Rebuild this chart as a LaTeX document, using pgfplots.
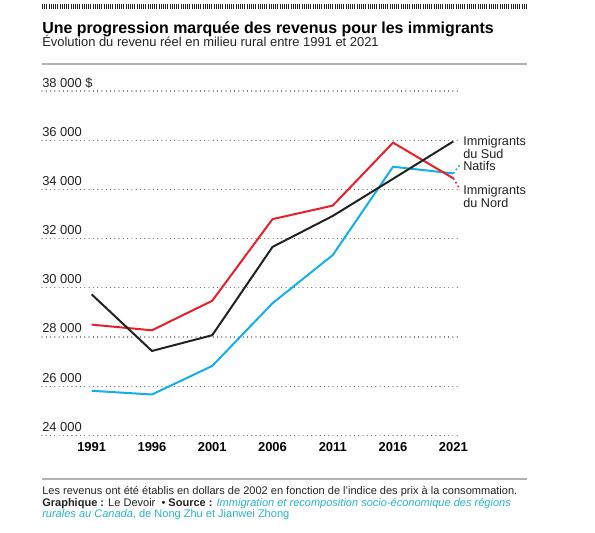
\documentclass[border=0pt]{standalone}
\usepackage{fontspec}
\setmainfont{Liberation Sans}
\usepackage{pgfplots}
\pgfplotsset{compat=1.18}
\definecolor{cred}{HTML}{E8202A}
\definecolor{cblue}{HTML}{14AEEA}
\definecolor{cblack}{HTML}{222222}
\definecolor{ccyan}{HTML}{2AB3C6}
\definecolor{ctext}{HTML}{222222}
\definecolor{cgrid}{HTML}{666666}
\begin{document}
\begin{tikzpicture}
\begin{scope}[x=0.75pt,y=-0.75pt]
\useasboundingbox (0,0) rectangle (595,532);
\draw[line width=3.75pt, dash pattern=on 0.75pt off 0.9pt, ctext] (42,6.5) -- (527,6.5);
\node[anchor=base west, inner sep=0pt, font=\fontsize{11.95}{13}\selectfont\bfseries, text=black] at (42,33.3) {Une progression marquée des revenus pour les immigrants};
\node[anchor=base west, inner sep=0pt, font=\fontsize{9.7}{12}\selectfont, text=ctext] at (42,46.7) {Évolution du revenu réel en milieu rural entre 1991 et 2021};
\draw[black!30, line width=0.8pt] (42,64) -- (527,64);
\node[anchor=base west, inner sep=0pt, font=\fontsize{9.5}{10}\selectfont, text=ctext] at (463,145) {Immigrants};
\node[anchor=base west, inner sep=0pt, font=\fontsize{9.5}{10}\selectfont, text=ctext] at (463,158) {du Sud};
\node[anchor=base west, inner sep=0pt, font=\fontsize{9.5}{10}\selectfont, text=ctext] at (463,170) {Natifs};
\node[anchor=base west, inner sep=0pt, font=\fontsize{9.5}{10}\selectfont, text=ctext] at (463,194) {Immigrants};
\node[anchor=base west, inner sep=0pt, font=\fontsize{9.5}{10}\selectfont, text=ctext] at (463,207) {du Nord};
\draw[black!30, line width=0.8pt] (42,479) -- (527,479);
\node[anchor=base west, inner sep=0pt, font=\fontsize{8.27}{9}\selectfont, text=ctext] at (42,494) {Les revenus ont été établis en dollars de 2002 en fonction de l’indice des prix à la consommation.};
\node[anchor=base west, inner sep=0pt, font=\fontsize{8.27}{9}\selectfont, text=ctext] at (42,506) {\textbf{Graphique :} Le Devoir\ \ • \textbf{Source :} \textcolor{ccyan}{\itshape Immigration et recomposition socio-économique des régions}};
\node[anchor=base west, inner sep=0pt, font=\fontsize{8.27}{9}\selectfont, text=ccyan] at (42,517.5) {\itshape rurales au Canada\upshape, de Nong Zhu et Jianwei Zhong};
\end{scope}
\begin{axis}[
  at={(31.5pt,-326.475pt)}, anchor=south west,
  scale only axis, width=312.75pt, height=258.225pt,
  xmin=1986.88, xmax=2021.47, ymin=24000, ymax=38000,
  clip=false,
  scaled y ticks=false, scaled x ticks=false,
  axis line style={draw=none},
  major tick length=0pt,
  ytick={24000,26000,28000,30000,32000,34000,36000,38000},
  yticklabels={24 000,26 000,28 000,30 000,32 000,34 000,36 000,38 000 \$},
  xtick={1991,1996,2001,2006,2011,2016,2021},
  xticklabels={1991,1996,2001,2006,2011,2016,2021},
  ymajorgrids,
  major grid style={line width=0.9pt, dash pattern=on 0.01pt off 3.2pt, line cap=round, cgrid},
  yticklabel style={anchor=base west, inner sep=0pt, xshift=0pt, yshift=3pt, font=\fontsize{9.7}{10}\selectfont, text=ctext},
  xticklabel style={anchor=base, inner sep=0pt, yshift=-12.3pt, font=\fontsize{9.7}{10}\selectfont\bfseries, text=black},
]
\addplot[cblue, line width=1.5pt, mark=none] coordinates {(1991,25810)(1996,25660)(2001,26820)(2006,29370)(2011,31330)(2016,34920)(2021,34650)};
\addplot[cred, line width=1.5pt, mark=none] coordinates {(1991,28500)(1996,28270)(2001,29470)(2006,32790)(2011,33340)(2016,35900)(2021,34450)};
\addplot[cblack, line width=1.5pt, mark=none] coordinates {(1991,29730)(1996,27430)(2001,28070)(2006,31660)(2011,32920)(2016,34430)(2021,35950)};
\addplot[cblue, line width=1.2pt, dotted, mark=none] coordinates {(2021,34650)(2021.5,34980)};
\addplot[cred, line width=1.2pt, dotted, mark=none] coordinates {(2021,34450)(2021.55,34000)};
\end{axis}
\end{tikzpicture}
\end{document}
